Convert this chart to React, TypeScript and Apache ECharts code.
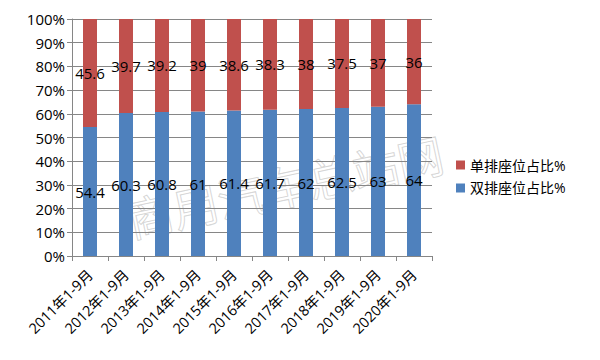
import React, { useEffect, useRef } from "react";
import * as echarts from "echarts";

const categories = [
  "2011年1-9月", "2012年1-9月", "2013年1-9月", "2014年1-9月", "2015年1-9月",
  "2016年1-9月", "2017年1-9月", "2018年1-9月", "2019年1-9月", "2020年1-9月",
];
const doubleRow = [54.4, 60.3, 60.8, 61, 61.4, 61.7, 62, 62.5, 63, 64];
const singleRow = [45.6, 39.7, 39.2, 39, 38.6, 38.3, 38, 37.5, 37, 36];
const seriesNames = ["双排座位占比%", "单排座位占比%"];

const FONT = "'Open Sans', 'Noto Sans CJK SC', sans-serif";

export default function App() {
  const ref = useRef<HTMLDivElement>(null);
  useEffect(() => {
    if (!ref.current) return;
    const chart = echarts.init(ref.current, undefined, { renderer: "svg" });
    const labelStyle = {
      show: true,
      position: "inside" as const,
      color: "#000",
      fontSize: 15,
      fontFamily: FONT,
    };
    chart.setOption({
      animation: false,
      backgroundColor: "#fff",
      grid: { left: 72, right: 168, top: 19, bottom: 104, containLabel: false },
      legend: {
        orient: "vertical",
        left: 451,
        top: 153,
        itemWidth: 9,
        itemHeight: 9,
        itemGap: 9,
        icon: "rect",
        data: [seriesNames[1], seriesNames[0]],
        textStyle: { fontSize: 14, color: "#000", fontFamily: FONT },
      },
      xAxis: {
        type: "category",
        data: categories,
        axisLine: { lineStyle: { color: "#868686", width: 1 } },
        axisTick: { show: true, alignWithLabel: false, length: 5, lineStyle: { color: "#868686" } },
        axisLabel: {
          rotate: 45,
          interval: 0,
          fontSize: 14.5,
          color: "#000",
          fontFamily: FONT,
          margin: 16,
        },
      },
      yAxis: {
        type: "value",
        min: 0,
        max: 100,
        interval: 10,
        axisLine: { show: true, lineStyle: { color: "#868686", width: 1 } },
        axisTick: { show: true, length: 5, lineStyle: { color: "#868686" } },
        splitLine: { show: true, lineStyle: { color: "#868686", width: 1 } },
        axisLabel: {
          formatter: "{value}%",
          fontSize: 15,
          color: "#000",
          fontFamily: FONT,
          margin: 7,
        },
      },
      graphic: [
        {
          type: "text",
          x: 285,
          y: 185,
          rotation: 0.21,
          z: -10,
          silent: true,
          style: {
            text: "商用汽车总站网",
            fontSize: 46,
            fontFamily: "'Noto Sans CJK SC', sans-serif",
            fill: "rgba(0,0,0,0)",
            stroke: "rgba(150,150,150,0.4)",
            lineWidth: 1,
            align: "center",
            verticalAlign: "middle",
          },
        },
      ],
      series: [
        {
          name: seriesNames[0],
          type: "bar",
          stack: "total",
          data: doubleRow,
          barWidth: 14,
          itemStyle: { color: "#4F81BD" },
          label: labelStyle,
        },
        {
          name: seriesNames[1],
          type: "bar",
          stack: "total",
          data: singleRow,
          barWidth: 14,
          itemStyle: { color: "#C0504D" },
          label: labelStyle,
        },
      ],
    });
    return () => chart.dispose();
  }, []);
  return (
    <div
      style={{
        position: "absolute",
        left: 0,
        top: 0,
        width: 600,
        height: 360,
        boxSizing: "border-box",
        border: "1px solid #8a8a8a",
        background: "#fff",
      }}
    >
      <div ref={ref} style={{ position: "absolute", left: -1, top: -1, width: 600, height: 360 }} />
    </div>
  );
}
